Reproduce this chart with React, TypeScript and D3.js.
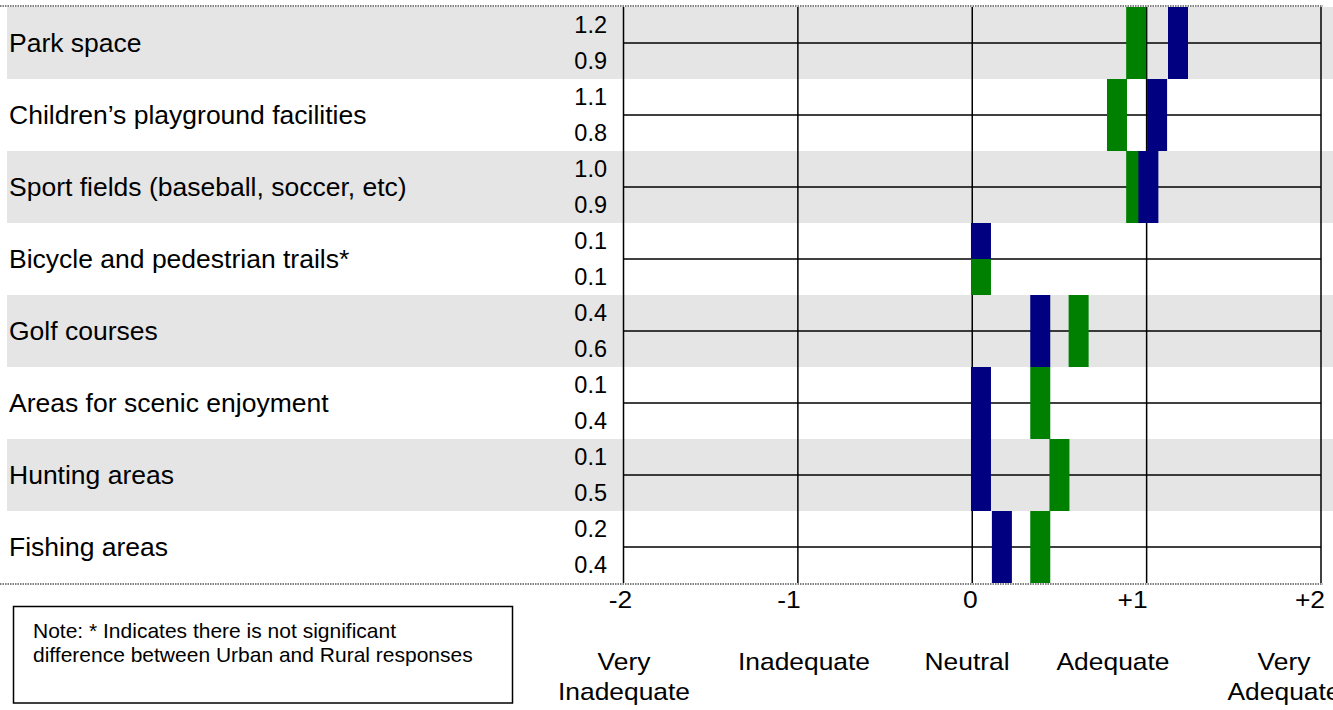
import React from "react";
import * as d3 from "d3";

// ---- data ----
const categories = [
  "Park space",
  "Children\u2019s playground facilities",
  "Sport fields (baseball, soccer, etc)",
  "Bicycle and pedestrian trails*",
  "Golf courses",
  "Areas for scenic enjoyment",
  "Hunting areas",
  "Fishing areas",
];
// blue series (top label) and green series (bottom label)
const blueValues = [1.18, 1.06, 1.01, 0.05, 0.39, 0.05, 0.05, 0.17];
const greenValues = [0.94, 0.83, 0.94, 0.05, 0.61, 0.39, 0.5, 0.39];
const blueLabels = ["1.2", "1.1", "1.0", "0.1", "0.4", "0.1", "0.1", "0.2"];
const greenLabels = ["0.9", "0.8", "0.9", "0.1", "0.6", "0.4", "0.5", "0.4"];
const tickValues = [-2, -1, 0, 1, 2];
const tickLabels = ["-2", "-1", "0", "+1", "+2"];
const scaleLabels = [["Very", "Inadequate"], ["Inadequate"], ["Neutral"], ["Adequate"], ["Very", "Adequate"]];
const noteLines = [
  "Note: * Indicates there is not significant",
  "difference between Urban and Rural responses",
];

// ---- layout ----
const W = 1333;
const H = 710;
const FONT = "'Liberation Sans', Arial, Helvetica, sans-serif";
const TOP = 7;
const BOTTOM = 583;
const tickDx = [-3, -9, -2, -14, -11];
const scaleLabelX = [624, 804, 967, 1113, 1284];
const SX = 1.1; // horizontal stretch of axis texts

export default function App() {
  const x = d3.scaleLinear().domain([-2, 2]).range([623.5, 1321]);
  const y = d3
    .scaleBand<number>()
    .domain(d3.range(categories.length))
    .range([TOP, BOTTOM])
    .padding(0);
  const bw = y.bandwidth();
  const markW = 20;
  const blue = "#000080";
  const green = "#008000";

  return (
    <svg
      width={W}
      height={H}
      style={{ position: "absolute", left: 0, top: 0, background: "#fff" }}
      fontFamily={FONT}
    >
      {/* bands */}
      {categories.map((c, i) =>
        i % 2 === 0 ? (
          <rect key={"b" + i} x={7} y={y(i)} width={W - 7} height={bw} fill="#e5e5e5" />
        ) : null
      )}
      {/* dotted frame lines */}
      <line x1={0} x2={1323} y1={TOP - 1} y2={TOP - 1} stroke="#808080" strokeWidth={2} strokeDasharray="1.5,1" />
      <line x1={0} x2={1323} y1={BOTTOM + 1} y2={BOTTOM + 1} stroke="#808080" strokeWidth={2} strokeDasharray="1.5,1" />

      {/* horizontal mid lines */}
      {categories.map((c, i) => (
        <line
          key={"m" + i}
          x1={x(-2)}
          x2={x(2)}
          y1={(y(i) as number) + bw / 2}
          y2={(y(i) as number) + bw / 2}
          stroke="#000"
          strokeWidth={1.7}
        />
      ))}
      {/* vertical grid lines */}
      {tickValues.map((t) => (
        <line key={"g" + t} x1={x(t)} x2={x(t)} y1={TOP} y2={BOTTOM} stroke="#000" strokeWidth={1.5} />
      ))}

      {/* marks */}
      {categories.map((c, i) => {
        const y0 = y(i) as number;
        const same = blueValues[i] === greenValues[i];
        return (
          <g key={"mk" + i}>
            <rect
              x={x(greenValues[i]) - markW / 2}
              y={same ? y0 + bw / 2 : y0}
              width={markW}
              height={same ? bw / 2 : bw}
              fill={green}
            />
            <rect
              x={x(blueValues[i]) - markW / 2}
              y={y0}
              width={markW}
              height={same ? bw / 2 : bw}
              fill={blue}
            />
          </g>
        );
      })}

      {/* category labels */}
      {categories.map((c, i) => (
        <text key={"c" + i} x={9} y={(y(i) as number) + bw / 2 + 9} fontSize={26.5} fill="#000">
          {c}
        </text>
      ))}
      {/* value labels */}
      {categories.map((c, i) => (
        <g key={"v" + i} fontSize={23.5} textAnchor="end" fill="#000">
          <text x={607} y={(y(i) as number) + bw / 4 + 8}>{blueLabels[i]}</text>
          <text x={607} y={(y(i) as number) + (3 * bw) / 4 + 8}>{greenLabels[i]}</text>
        </g>
      ))}

      {/* tick labels */}
      {tickValues.map((t, i) => (
        <text
          key={"t" + i}
          transform={`translate(${x(t) + tickDx[i]},608) scale(${SX},1)`}
          fontSize={24}
          textAnchor="middle"
        >
          {tickLabels[i]}
        </text>
      ))}
      {/* scale descriptors */}
      {scaleLabels.map((lines, i) => (
        <text
          key={"s" + i}
          transform={`translate(${scaleLabelX[i]},670) scale(${SX},1)`}
          fontSize={24}
          textAnchor="middle"
        >
          {lines.map((l, j) => (
            <tspan key={j} x={0} dy={j === 0 ? 0 : 30}>
              {l}
            </tspan>
          ))}
        </text>
      ))}

      {/* note box */}
      <rect x={13.5} y={606.5} width={499} height={96.5} fill="#fff" stroke="#000" strokeWidth={1.5} />
      {noteLines.map((l, i) => (
        <text key={"n" + i} x={33} y={638 + i * 24} fontSize={21}>
          {l}
        </text>
      ))}
    </svg>
  );
}
